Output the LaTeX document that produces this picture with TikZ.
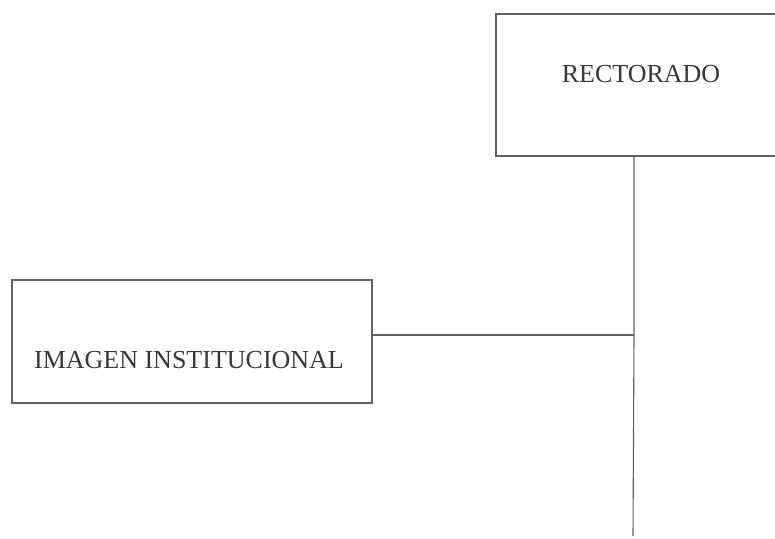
\documentclass[tikz,border=0pt]{standalone}
\usepackage{fontspec}
\setmainfont{Liberation Serif}
\begin{document}
\begin{tikzpicture}[x=1pt,y=-1pt,
  orgbox/.style={draw=black!62,line width=1.1pt,rectangle,inner sep=0pt},
  orglabel/.style={text=black!78,font=\fontsize{26}{30}\selectfont,inner sep=0pt},
  link/.style={draw=black!62,line width=1.1pt}]
\useasboundingbox (0,0) rectangle (775,538);
% top office box, running past the right edge
\node[orgbox,minimum width=300pt,minimum height=142pt] (rect) at (646,85) {};
\node[orglabel] (rectlbl) at (641,74) {RECTORADO};
% side office box
\node[orgbox,minimum width=360pt,minimum height=123pt] (img) at (192,341.5) {};
\node[orglabel] (imglbl) at (189,360) {IMAGEN INSTITUCIONAL};
% trunk line and branch
\coordinate (trunktop) at (634,156);
\coordinate (trunkend) at (633,536);
\coordinate (junction) at (634,335);
\draw[link] (trunktop) -- (junction) -- (trunkend);
\draw[link] (img.east |- junction) -- (junction);
\end{tikzpicture}
\end{document}
